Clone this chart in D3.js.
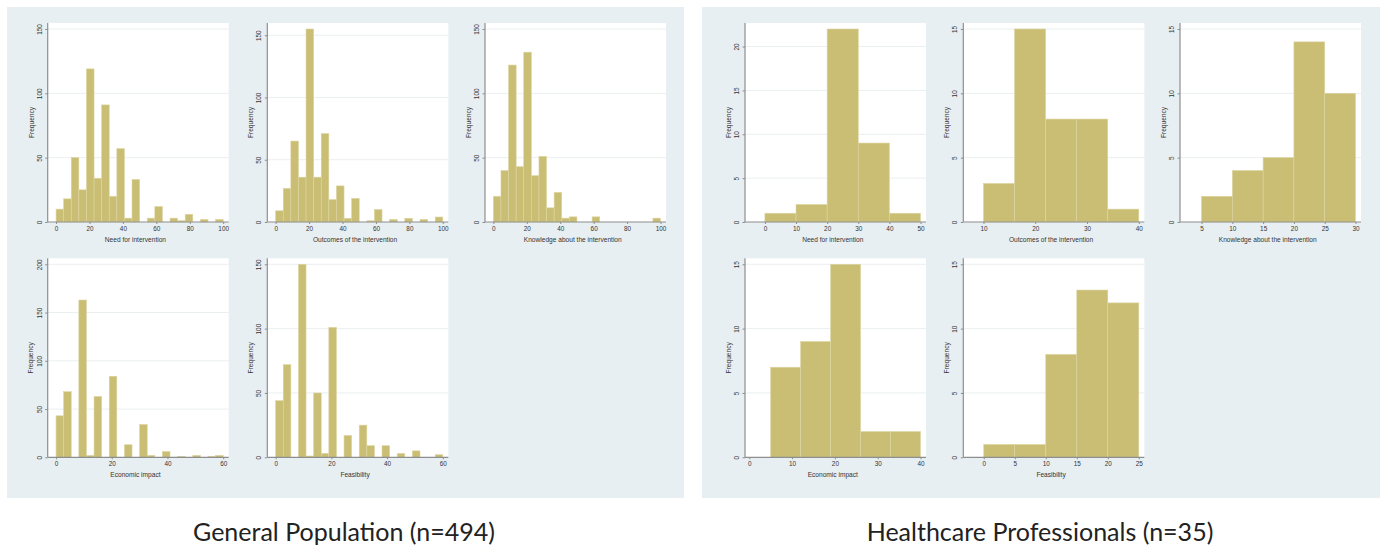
<!DOCTYPE html>
<html>
<head>
<meta charset="utf-8">
<script src="https://cdn.jsdelivr.net/npm/d3@7"></script>
<style>
  html, body { margin: 0; padding: 0; background: #ffffff; }
  svg { display: block; }
</style>
</head>
<body>
<svg id="chart" width="1384" height="549"></svg>
<script>
// ---------------- DATA ----------------
const groupTitles = ["General Population (n=494)", "Healthcare Professionals (n=35)"];

const panelTitles = [
  "Need for intervention",
  "Outcomes of the intervention",
  "Knowledge about the intervention",
  "Economic impact",
  "Feasibility"
];

// General population: 22 bins each, bin range [start, end]
const gpBinRanges = [[0, 100], [0, 100], [0, 100], [0, 60], [0, 60]];
const gpNeed        = [10, 18, 50, 25, 119, 34, 91, 20, 57, 3, 33, 0, 3, 12, 0, 3, 1, 6, 0, 2, 0, 2];
const gpOutcomes    = [9, 27, 65, 36, 155, 36, 71, 18, 29, 3, 19, 0, 1, 10, 0, 2, 0, 3, 0, 2, 0, 4];
const gpKnowledge   = [20, 40, 122, 43, 132, 36, 51, 11, 23, 3, 4, 0, 0, 4, 0, 0, 0, 0, 0, 0, 0, 3];
const gpEconomic    = [43, 68, 0, 163, 2, 63, 0, 84, 0, 13, 0, 34, 2, 0, 6, 0, 1, 0, 2, 0, 1, 2];
const gpFeasibility = [44, 72, 0, 150, 1, 50, 3, 101, 0, 17, 0, 25, 9, 0, 9, 0, 3, 0, 5, 0, 0, 2];
const gpXTicks = [[0, 20, 40, 60, 80, 100], [0, 20, 40, 60, 80, 100], [0, 20, 40, 60, 80, 100], [0, 20, 40, 60], [0, 20, 40, 60]];
const gpYTicks = [[0, 50, 100, 150], [0, 50, 100, 150], [0, 50, 100, 150], [0, 50, 100, 150, 200], [0, 50, 100, 150]];
const gpXAxisMin = [-5, -5, -5, -3, -3];

// Healthcare professionals: 5 bins each
const hpBinRanges = [[0, 50], [10, 40], [5, 30], [5, 40], [0, 25]];
const hpNeed        = [1, 2, 22, 9, 1];
const hpOutcomes    = [3, 15, 8, 8, 1];
const hpKnowledge   = [2, 4, 5, 14, 10];
const hpEconomic    = [7, 9, 15, 2, 2];
const hpFeasibility = [1, 1, 8, 13, 12];
const hpXTicks = [[0, 10, 20, 30, 40, 50], [10, 20, 30, 40], [5, 10, 15, 20, 25, 30], [0, 10, 20, 30, 40], [0, 5, 10, 15, 20, 25]];
const hpYTicks = [[0, 5, 10, 15, 20], [0, 5, 10, 15], [0, 5, 10, 15], [0, 5, 10, 15], [0, 5, 10, 15]];
const hpXAxisMin = [-6.4, 6.1, 1.5, -1, -3.3];

const groupsData = [
  { title: groupTitles[0], series: [gpNeed, gpOutcomes, gpKnowledge, gpEconomic, gpFeasibility],
    ranges: gpBinRanges, xTicks: gpXTicks, yTicks: gpYTicks, xMin: gpXAxisMin },
  { title: groupTitles[1], series: [hpNeed, hpOutcomes, hpKnowledge, hpEconomic, hpFeasibility],
    ranges: hpBinRanges, xTicks: hpXTicks, yTicks: hpYTicks, xMin: hpXAxisMin }
];

// ---------------- LAYOUT / STYLE ----------------
const layout = {
  groups: [
    { x: 7, y: 7, w: 677, h: 491, axisX: [47.7, 267.3, 485], captionX: 344 },
    { x: 702, y: 7, w: 678, h: 491, axisX: [745, 963.3, 1180], captionX: 1040 }
  ],
  axisY: [222, 457.3],
  dataW: 175.5,
  plotW: 181,
  dataH: 193,
  plotH: 199,
  captionY: 541
};
const style = {
  bg: "#e8eff2",
  plotBg: "#ffffff",
  grid: "#eaeff1",
  bar: "#c9be74",
  barStroke: "#ddd5a2",
  axis: "#8e8e8e",
  text: "#333333",
  font: "'Liberation Sans', Arial, sans-serif",
  tickSize: 6.4,
  titleSize: 6.6,
  capFont: "Lato, 'Open Sans', sans-serif",
  capColor: "#222222"
};

const svg = d3.select("#chart");

groupsData.forEach((g, gi) => {
  const L = layout.groups[gi];
  svg.append("rect")
    .attr("x", L.x).attr("y", L.y).attr("width", L.w).attr("height", L.h)
    .attr("fill", style.bg);

  g.series.forEach((vals, pi) => {
    const row = pi < 3 ? 0 : 1;
    const col = pi < 3 ? pi : pi - 3;
    const ax = L.axisX[col];
    const ay = layout.axisY[row];
    const [b0, b1] = g.ranges[pi];
    const xHi = Math.max(b1, d3.max(g.xTicks[pi]));
    const yTop = Math.max(d3.max(vals), d3.max(g.yTicks[pi]));

    const x = d3.scaleLinear().domain([g.xMin[pi], xHi]).range([ax, ax + layout.dataW]);
    const y = d3.scaleLinear().domain([0, yTop]).range([ay, ay - layout.dataH]);
    const bw = (b1 - b0) / vals.length;

    const p = svg.append("g");
    // plot region
    p.append("rect")
      .attr("x", ax).attr("y", ay - layout.plotH)
      .attr("width", layout.plotW).attr("height", layout.plotH)
      .attr("fill", style.plotBg);

    // gridlines
    p.selectAll("line.grid").data(g.yTicks[pi].filter(t => t > 0)).join("line")
      .attr("x1", ax).attr("x2", ax + layout.plotW)
      .attr("y1", d => y(d)).attr("y2", d => y(d))
      .attr("stroke", style.grid).attr("stroke-width", 1);

    // bars
    p.selectAll("rect.bar").data(vals.map((v, i) => ({ v, i }))).join("rect")
      .attr("class", "bar")
      .attr("x", d => x(b0 + d.i * bw))
      .attr("width", d => x(b0 + (d.i + 1) * bw) - x(b0 + d.i * bw))
      .attr("y", d => y(d.v))
      .attr("height", d => ay - y(d.v))
      .attr("fill", style.bar)
      .attr("stroke", d => d.v > 0 ? style.barStroke : "none")
      .attr("stroke-width", 0.6);

    // x axis
    const xAxis = d3.axisBottom(x).tickValues(g.xTicks[pi]).tickSize(2).tickPadding(2).tickSizeOuter(0);
    const xg = p.append("g").attr("transform", `translate(0,${ay})`).call(xAxis);
    xg.select(".domain").remove();
    xg.selectAll(".tick line").attr("stroke", style.axis);
    xg.selectAll(".tick text")
      .attr("font-family", style.font).attr("font-size", style.tickSize)
      .attr("fill", style.text).attr("dy", "0.71em");
    p.append("line")
      .attr("x1", ax).attr("x2", ax + layout.plotW).attr("y1", ay).attr("y2", ay)
      .attr("stroke", style.axis).attr("stroke-width", 1.2);

    // y axis
    const yAxis = d3.axisLeft(y).tickValues(g.yTicks[pi]).tickSize(2.5).tickFormat(d3.format("d"));
    const yg = p.append("g").attr("transform", `translate(${ax},0)`).call(yAxis);
    yg.select(".domain").remove();
    yg.selectAll(".tick line").attr("stroke", style.axis);
    yg.selectAll(".tick text")
      .attr("x", -8.5).attr("y", 0).attr("dy", null)
      .attr("text-anchor", "middle").attr("dominant-baseline", "central")
      .attr("transform", "rotate(-90,-8.5,0)")
      .attr("font-family", style.font).attr("font-size", style.tickSize)
      .attr("fill", style.text);
    p.append("line")
      .attr("x1", ax).attr("x2", ax).attr("y1", ay).attr("y2", ay - layout.plotH)
      .attr("stroke", style.axis).attr("stroke-width", 1.2);

    // axis titles
    p.append("text")
      .attr("x", ax + layout.dataW / 2 + 0).attr("y", ay + 17)
      .attr("text-anchor", "middle").attr("dominant-baseline", "central")
      .attr("font-family", style.font).attr("font-size", style.titleSize)
      .attr("fill", style.text)
      .text(panelTitles[pi]);
    const my = ay - layout.plotH / 2;
    p.append("text")
      .attr("x", ax - 16.7).attr("y", my)
      .attr("transform", `rotate(-90,${ax - 16.7},${my})`)
      .attr("text-anchor", "middle").attr("dominant-baseline", "central")
      .attr("font-family", style.font).attr("font-size", style.titleSize)
      .attr("fill", style.text)
      .text("Frequency");
  });
});

// captions
const caps = svg.selectAll("text.caption").data(groupsData).join("text")
  .attr("class", "caption")
  .attr("x", (d, i) => layout.groups[i].captionX)
  .attr("y", layout.captionY)
  .attr("text-anchor", "middle")
  .attr("font-family", style.capFont)
  .attr("font-size", 22)
  .attr("fill", style.capColor)
  .text(d => d.title);
// fit caption size to reference width of the first caption (~302px)
const w0 = caps.node().getComputedTextLength();
if (w0 > 0) caps.attr("font-size", 22 * 302 / w0);
</script>
</body>
</html>
